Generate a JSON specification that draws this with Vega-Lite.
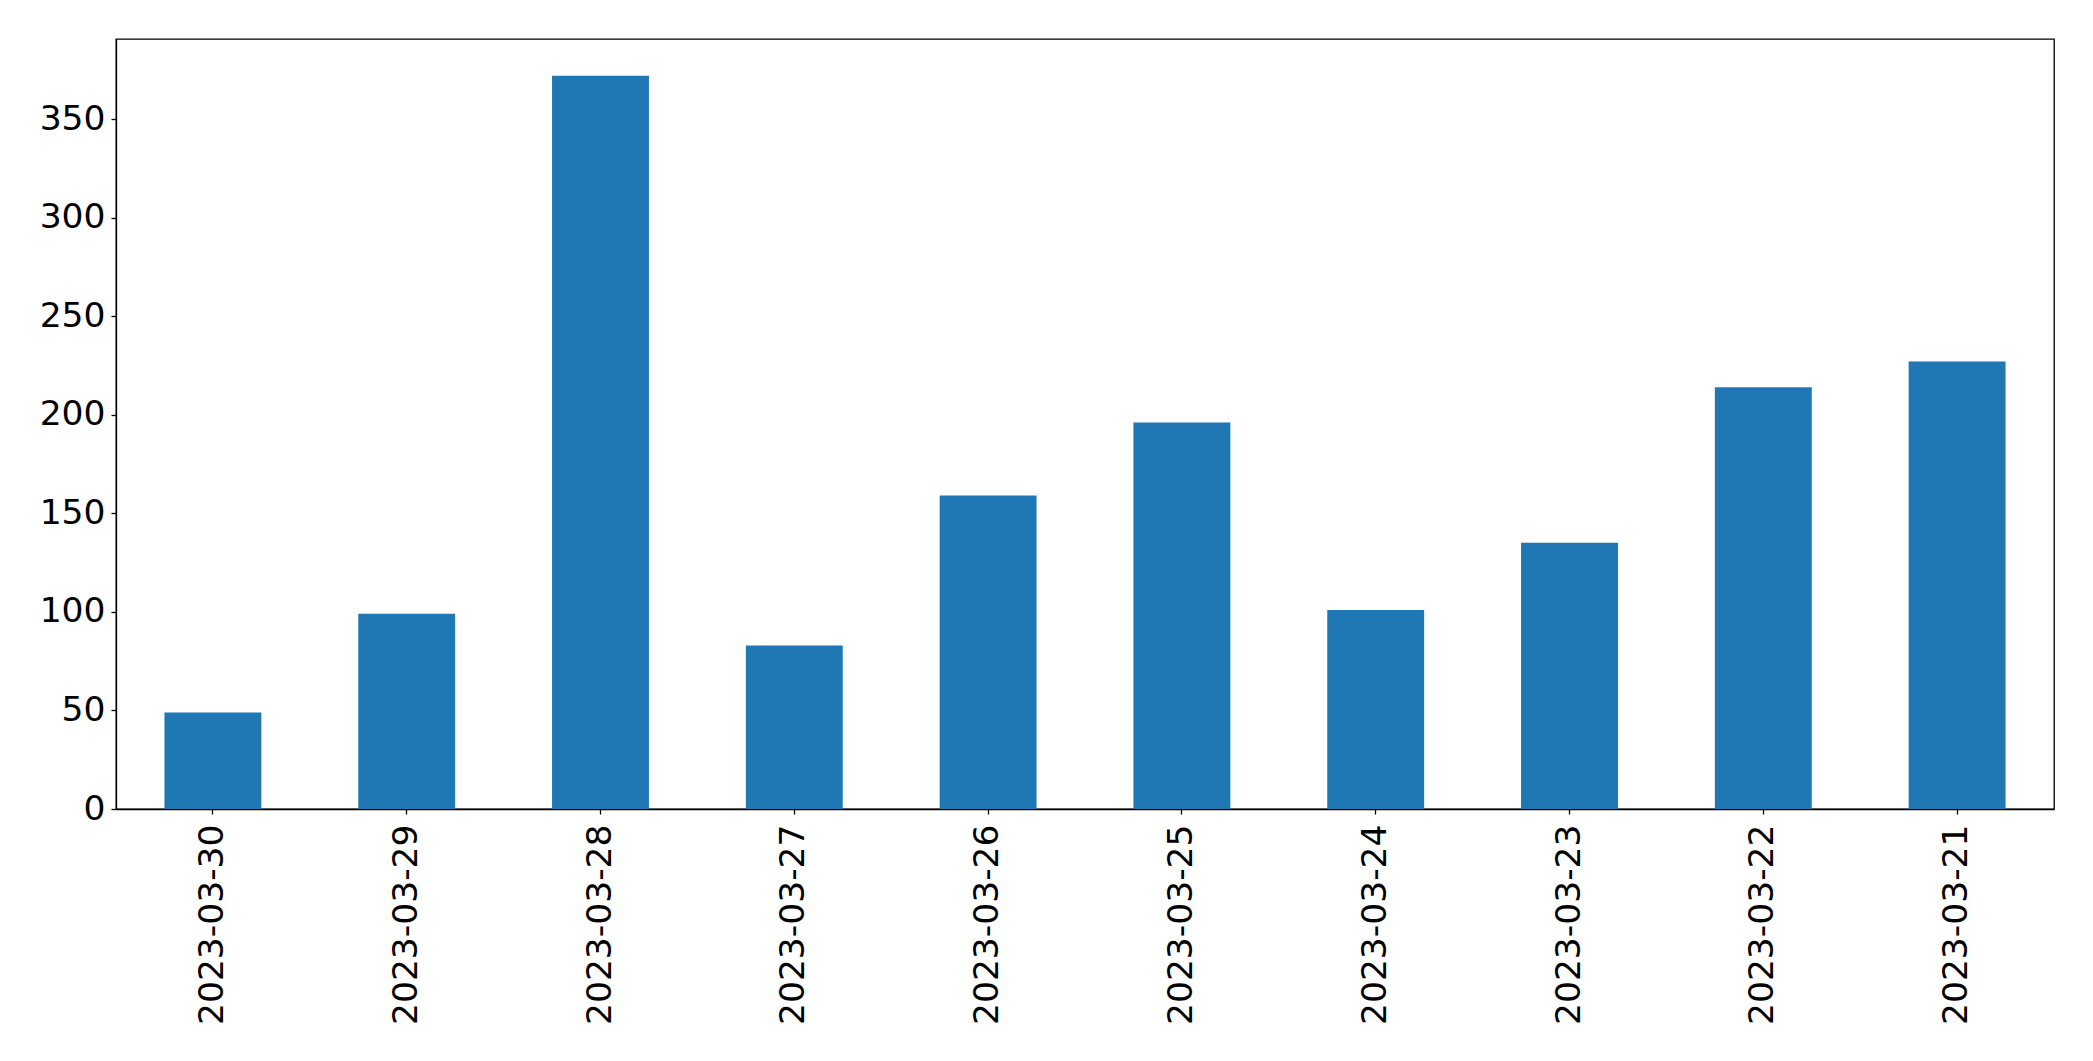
{
  "$schema": "https://vega.github.io/schema/vega-lite/v6.json",
  "autosize": {"type": "none"},
  "padding": {"left": 116, "top": 39, "right": 39, "bottom": 252},
  "width": 1938,
  "height": 770,
  "background": "white",
  "config": {
    "view": {"stroke": "black", "strokeWidth": 1.3},
    "axis": {
      "labelFont": "DejaVu Sans",
      "labelFontSize": 34.5,
      "labelColor": "black",
      "labelLimit": 0,
      "domainColor": "black",
      "domainWidth": 1.3,
      "tickColor": "black",
      "tickWidth": 1.3,
      "tickSize": 5,
      "grid": false,
      "title": null
    }
  },
  "data": {
    "values": [
      {"date": "2023-03-30", "count": 49},
      {"date": "2023-03-29", "count": 99},
      {"date": "2023-03-28", "count": 372},
      {"date": "2023-03-27", "count": 83},
      {"date": "2023-03-26", "count": 159},
      {"date": "2023-03-25", "count": 196},
      {"date": "2023-03-24", "count": 101},
      {"date": "2023-03-23", "count": 135},
      {"date": "2023-03-22", "count": 214},
      {"date": "2023-03-21", "count": 227}
    ]
  },
  "mark": {"type": "bar", "color": "#1f77b4"},
  "encoding": {
    "x": {
      "field": "date",
      "type": "nominal",
      "sort": null,
      "scale": {"paddingInner": 0.5, "paddingOuter": 0.25},
      "axis": {"labelAngle": -90, "labelPadding": 10, "labelBaseline": "middle", "labelAlign": "right"}
    },
    "y": {
      "field": "count",
      "type": "quantitative",
      "scale": {"domain": [0, 390.6], "nice": false, "zero": true},
      "axis": {"values": [0, 50, 100, 150, 200, 250, 300, 350], "labelPadding": 6}
    }
  }
}
